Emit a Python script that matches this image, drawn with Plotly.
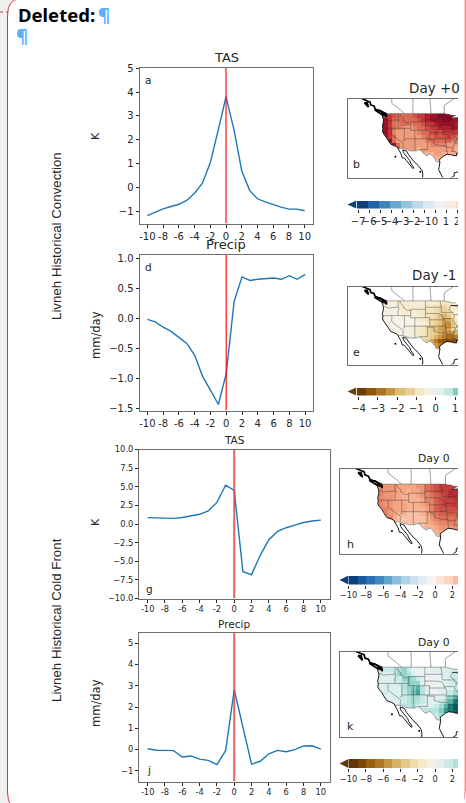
import plotly.graph_objects as go

W, H = 466, 803
days = list(range(-10, 11))
day_ticks = list(range(-10, 11, 2))
day_labels = [str(d) for d in day_ticks]

tas_conv = [-1.15, -1.0, -0.87, -0.77, -0.68, -0.52, -0.22, 0.2, 1.05, 2.4, 3.8, 2.45, 0.72, -0.1, -0.45, -0.58, -0.7, -0.8, -0.88, -0.88, -0.95]
pr_conv = [-0.02, -0.06, -0.15, -0.22, -0.32, -0.42, -0.62, -0.97, -1.2, -1.44, -0.92, 0.28, 0.69, 0.63, 0.65, 0.665, 0.67, 0.65, 0.71, 0.65, 0.73]
tas_front = [0.85, 0.85, 0.78, 0.75, 0.88, 1.1, 1.3, 1.75, 2.9, 5.2, 4.5, -6.4, -6.8, -4.2, -2.1, -1.0, -0.5, -0.15, 0.2, 0.4, 0.52]
pr_front = [0.04, -0.03, -0.04, -0.05, -0.35, -0.3, -0.45, -0.51, -0.71, -0.05, 2.8, 1.0, -0.68, -0.55, -0.2, -0.04, -0.1, 0.0, 0.17, 0.18, 0.02]

grid_lon = list(range(-125, -88, 2))
grid_lat = list(range(48, 25, -2))

map_b = [
 [5,5,5,4.5,4,4,4,4,4.5,5,5,5.5,6,6,6.5,6.5,6.5,6,6],
 [5,6,5,4,4,4,4,4,4,4.5,5,5.5,6,6,6,6.5,6.5,6,6],
 [5,6,5,4,3.5,4,4,3.5,4,4,4.5,5,5,5.5,6,6,6,6,5.5],
 [5,6,5,4,3.5,3.5,3,3,3.5,4,4,4.5,5,5,5.5,5.5,5.5,6,5.5],
 [5,6,5,3.5,3,3,3,3,3,3.5,4,4,4.5,5,4.5,5,5,5,5],
 [5,6,5,4,3,3,3,3,3,3,3.5,4,4,4.5,4.5,4.5,5,4.5,4],
 [5,5,6,4,3,3,3,3,3,3,3,3.5,4,4,4,4,4,3.5,3.5],
 [5,5,5,6,4,3,3,3,3,3,3,3,3.5,3.5,3.5,3.5,3,3,3],
 [5,5,5,5,5,3,3,3,3,2.5,3,3,3,3,3,3,3,3,2.5],
 [3,3,3,3,3,3,3,3,3,2.5,2.5,2.5,2.5,3,3,2.5,2.5,2.5,2],
 [2,2,2,2,2,2,2,2,2,2,2,2,2.5,2.5,2.5,2.5,2,2,2],
 [2,2,2,2,2,2,2,2,2,2,2,2,2,2,2,2,2,2,2],
]
map_e = [
 [-.5,-.5,-.4,-.6,-.7,-.7,-.7,-.6,-.6,-.5,-.5,-.6,-.7,-.8,-.9,-1,-1,-1,-.8],
 [-.5,-.4,-.4,-.3,-.4,-.7,-.8,-.7,-.7,-.7,-.8,-.9,-.9,-1,-1.2,-1.3,-1,-.7,-.3],
 [-.3,-.3,-.3,-.3,-.3,-.5,-.7,-.8,-.6,-.8,-.9,-1,-1,-1.2,-1.4,-1.4,-1.2,-.6,-.3],
 [-.3,-.2,-.2,-.2,-.2,-.3,-.5,-.5,-.5,-.7,-.8,-1,-1,-1.3,-1.8,-2,-1.6,-1,-.5],
 [-.2,-.2,-.2,-.2,-.2,-.2,-.2,-.3,-.4,-.6,-.7,-1,-1.2,-1.4,-1.8,-2.2,-2.2,-1.4,-.8],
 [-.2,-.2,-.2,-.2,-.2,-.2,-.2,-.2,-.3,-.4,-.5,-.9,-1.2,-1.5,-1.8,-2.4,-2.6,-1.8,-1],
 [-.2,-.2,-.2,-.2,-.2,-.2,-.3,-.4,-.5,-.7,-1,-1.2,-1.6,-1.8,-2.2,-2.4,-2.2,-1.4,-1],
 [-.2,-.2,-.2,-.2,-.2,-.3,-.4,-.4,-.6,-.7,-.8,-1.2,-1.4,-1.6,-2,-2.4,-2.6,-2.4,-2],
 [-.2,-.2,-.2,-.2,-.3,-.4,-.4,-.6,-.7,-.8,-1,-1.2,-1.6,-2,-2.4,-2.8,-3,-3,-2.8],
 [-.3,-.3,-.3,-.3,-.4,-.5,-.6,-.7,-.8,-1,-1.2,-1.6,-2.2,-2.8,-3.4,-3.6,-3.6,-3.6,-3.4],
 [-.8,-.8,-.8,-.8,-.8,-.8,-.8,-.8,-.8,-1,-1.2,-1.4,-1.8,-2.4,-2.8,-3,-3,-3,-3],
 [-.8,-.8,-.8,-.8,-.8,-.8,-.8,-.8,-.8,-1,-1,-1.2,-1.4,-1.6,-1.6,-1.6,-1.6,-1.6,-1.6],
]
map_h = [
 [4,4.5,4.5,4.5,4.5,4,4,4,4,4.5,4.5,5.5,6,6.5,7,7,7,7.5,7],
 [4.5,5,4.5,4.5,4.5,4,4,3.5,4,4,4.5,5.5,6,6.5,7,7,7.5,7.5,7],
 [4.5,5,4.5,4.5,4,4,3.5,3.5,3.5,4,4.5,5,5.5,6,6.5,7,7.5,7.5,7],
 [4.5,5,4.5,4.5,4,4,3.5,3.5,3.5,3.5,4,5,5,6,6.5,7,7,7,7],
 [4.5,5,4.5,4.5,4,4,4,3.5,3.5,3.5,4,4.5,5,6,6.5,7,7,7,7],
 [4.5,5,5,4.5,4,4,4,3.5,3.5,3.5,3.5,4,5,6,6.5,6.5,6.5,6.5,6.5],
 [4,4.5,5,4.5,4,3.5,3.5,3,3,3,3.5,4,5,5.5,6,6,6,6,6],
 [4,4,4,5,3.5,3,3,3,3,3,3,3.5,4.5,5,5.5,5.5,5.5,5.5,5.5],
 [4,4,4,4,4,3,3,3,3,3,3,3.5,4,4.5,5,5,5,5,5],
 [4,4,4,4,4,3,3,3,3,3,3,3.5,3.5,4,4.5,4.5,4.5,4.5,4.5],
 [4,4,4,4,4,3,3,3,3,3,3,3,3.5,3.5,4,4,4,4,4],
 [4,4,4,4,4,3,3,3,3,3,3,3,3,3,3.5,3.5,3.5,3.5,3.5],
]
map_k = [
 [1,1.5,2,2,2,3,3.5,2,.5,.5,.5,.5,1,1,1,1,1.5,1.5,2],
 [1,1.5,1,1,2,3.5,3.5,2.5,1,.5,.5,.5,.5,.5,1,1,1.5,2,3],
 [1,1,1,1,2,2,3.5,4,3,2,1,.5,.5,.5,.5,1,1.5,2,3],
 [1,1,1,1,1,2,2.5,4,3.5,3.5,1,.5,.5,.5,.5,1,1.5,2,4],
 [1,1,1.5,1,1,1,2.5,3.5,4,5,2.5,1,.5,.5,.5,1,1,2,4],
 [1,1,1.5,1,1,1,2,3.5,4.5,5.5,2.5,1,.5,.5,1,1,2,3,5],
 [1,1,1,1,1,1,2,2.5,3,3,2,1,1,1,1,2,3.5,5,7],
 [1,1,1,1,1,1,2,2.5,3,2.5,2,1,1,1,2,3,5,7,8],
 [1,1,1,1,1,2,2.5,2.5,2.5,2,1,1,1,2,3,5,7,8,8],
 [1,1,1,1,1,2,2,1,1,1,2,2.5,2.5,2.5,4,6,7,8,8],
 [1,1,1,1,1,2,2,2,2,2,2,2,2,2,3,4,6,7,7],
 [1,1,1,1,1,2,2,2,2,2,2,2,2,2,2,3,4,5,5],
]

us_lon = [-124.7,-123.2,-122.8,-95.2,-95.15,-94.6,-93,-91.5,-89.6,-92.1,-90.5,-88,-86,-86,-88,-89.5,-89.2,-90.5,-91.8,-93.8,-94.8,-96,-97.2,-97.4,-97.2,-99.1,-99.5,-100.7,-101.5,-102.7,-103.2,-104.5,-106.5,-108.2,-108.2,-111.07,-114.8,-117.1,-117.3,-118.4,-120.5,-121.9,-122.5,-123.8,-124.4,-124.2,-124.5,-124,-124,-124.7]
us_lat = [48.4,48.2,49,49,49.4,48.7,48.6,48.1,48,46.75,46.6,46.9,46.6,30.3,30.3,30.2,29.1,29.1,29.5,29.7,29.3,28.5,27.6,26.8,25.96,26.4,27.5,29.1,29.8,29.7,29,29.6,31.75,31.75,31.33,31.33,32.5,32.53,33.1,33.75,34.5,36.6,37.8,39.3,40.4,42,43,44.8,46.3,48.4]

state_lines = [
 [(-123.2,48.2),(-122.8,49),(-95.2,49),(-95.15,49.4),(-94.6,48.7),(-93,48.6),(-91.5,48.1),(-89.6,48)],
 [(-124,46.25),(-123,46.2),(-122,45.6),(-119,45.9),(-116.9,46)],
 [(-117.03,49),(-117.03,46.4),(-116.9,46),(-116.5,45.5),(-117,44.2),(-117.03,42)],
 [(-124.2,42),(-111.05,42)],
 [(-120,42),(-120,39),(-114.6,35),(-114.7,32.7)],
 [(-114.05,42),(-114.05,36.2),(-114.7,36.1)],
 [(-114.05,37),(-94.6,37)],
 [(-116.05,49),(-116.05,48),(-114.5,46.6),(-114.5,45.6),(-113.5,45.1),(-113,44.5),(-111.05,44.5)],
 [(-111.05,45),(-104.05,45)],
 [(-111.05,45),(-111.05,41)],
 [(-111.05,41),(-102.05,41)],
 [(-109.05,41),(-109.05,31.33)],
 [(-102.05,41),(-102.05,37)],
 [(-104.05,49),(-104.05,41)],
 [(-104.05,45.94),(-96.56,45.94)],
 [(-104.05,43),(-98.5,43),(-96.5,42.5)],
 [(-102.05,40),(-95.3,40)],
 [(-94.6,39.1),(-94.6,36.5)],
 [(-103,37),(-103,32),(-106.6,32),(-106.5,31.75)],
 [(-103,36.5),(-100,36.5),(-100,34.6),(-97,33.8),(-94.5,33.6),(-94.05,33.55)],
 [(-94.45,36.5),(-94.45,33.6)],
 [(-94.05,33.55),(-94.05,31),(-93.6,31),(-93.8,29.7)],
 [(-94.05,33),(-91.2,33)],
 [(-94.6,36.5),(-90.2,36.5),(-90.3,36)],
 [(-91.2,43.5),(-91,42.5),(-90.2,41.8),(-91,40.6),(-91.4,40),(-90.2,38.7),(-89.2,37),(-89.6,36.5),(-90.1,35),(-91.1,33),(-91.6,31),(-89.7,31),(-89.6,30.2)],
 [(-96.5,43.5),(-91.2,43.5)],
 [(-95.77,40.58),(-91.7,40.6)],
 [(-97.2,49),(-96.56,46),(-96.5,43.5)],
 [(-96.5,42.5),(-95.9,41),(-95.3,40),(-94.6,39.1)],
 [(-92,46.7),(-92.8,45.5),(-92.8,44.7),(-91.2,43.5)],
 [(-90.6,42.5),(-87.8,42.5)],
 [(-90.4,46.5),(-88,45.8)],
 [(-88.4,35),(-88.1,30.3)],
 [(-90.1,35),(-88,35)],
 [(-89.5,36.5),(-88,36.5)],
 [(-89.2,37),(-88,37.8)],
]
border_lines = [
 [(-120,57),(-120,53.8),(-116,50.7),(-114.06,49)],
 [(-110,57),(-110,49)],
 [(-102,57),(-101.4,49)],
 [(-95.15,49.4),(-95.15,52.8),(-89,57)],
 [(-97.2,25.96),(-99.1,26.4),(-99.5,27.5),(-100.7,29.1),(-101.5,29.8),(-102.7,29.7),(-103.2,29),(-104.5,29.6),(-106.5,31.75),(-108.2,31.75),(-108.2,31.33),(-111.07,31.33),(-114.8,32.5),(-117.1,32.53)],
]
coast_lines = [
 [(-124.7,48.4),(-124,46.3),(-124,44.8),(-124.5,43),(-124.2,42),(-124.4,40.4),(-123.8,39.3),(-122.5,37.8),(-121.9,36.6),(-120.5,34.5),(-118.4,33.75),(-117.3,33.1),(-117.1,32.53),(-116.5,31.5),(-115.8,30.3),(-115,28),(-114.1,28),(-113,26.7),(-112.1,25.5),(-111.5,24.5),(-110,23),(-109.5,23.3),(-110.3,24.3),(-111,25.5),(-111.5,26.8),(-112.8,28.5),(-114.5,30.5),(-114.8,31.8),(-113,31.2),(-112,29.5),(-110.5,27.6),(-109.2,26),(-107.5,24.5),(-105.6,22),(-105.3,20.5),(-105.5,18)],
 [(-86,30.3),(-88,30.3),(-89.5,30.2),(-89.2,29.1),(-90.5,29.1),(-91.8,29.5),(-93.8,29.7),(-94.8,29.3),(-96,28.5),(-97.2,27.6),(-97.4,26.8),(-97.2,25.96),(-97.8,22.5),(-96.5,19.5),(-95.5,18)],
 [(-92,18.6),(-90.5,19.5),(-90.4,21),(-88,21.6)],
 [(-92.1,46.75),(-90.5,46.7),(-88,46.9)],
]
bc_lines = [
 [(-134.5,57),(-133.5,55.8),(-132,55),(-131,54.5),(-130.3,54.3),(-130,53),(-128.5,52.5),(-127.8,51),(-126,50.5),(-125,50),(-124,49.5),(-123,49.1),(-122.8,48.9),(-122.5,48),(-122.5,47.3),(-123,48.1),(-124.7,48.4)],
 [(-128.2,50.7),(-125.5,50.3),(-123.5,48.6),(-124.8,48.6),(-128.2,50.7)],
 [(-133,54),(-131.7,54),(-131,52),(-133,54)],
 [(-135,57.5),(-133.5,56.5),(-132.5,55.5),(-133.8,55.8),(-135,57.5)],
]
island_lon = [-118.3, -106.5]
island_lat = [28.6, 21.5]

rdbu_scale = [[0,'#053061'],[.1,'#2166ac'],[.2,'#4393c3'],[.3,'#92c5de'],[.4,'#d1e5f0'],[.5,'#f7f7f7'],[.6,'#fddbc7'],[.7,'#f4a582'],[.8,'#d6604d'],[.9,'#b2182b'],[1,'#67001f']]
brbg_scale = [[0,'#543005'],[.1,'#8c510a'],[.2,'#bf812d'],[.3,'#dfc27d'],[.4,'#f6e8c3'],[.5,'#f5f5f5'],[.6,'#c7eae5'],[.7,'#80cdc1'],[.8,'#35978f'],[.9,'#01665e'],[1,'#003c30']]

cb_b_colors = ['#0f3f78','#1f63a8','#3a85bc','#66a8cf','#94c5df','#bcd9ea','#dce9f2','#eef1f4','#fae9e0','#fdd7c2','#fbc3a6']
cb_e_colors = ['#6b3d0a','#8f560e','#aa7322','#c2953f','#dcbc72','#e6cf94','#f4e6c0','#f4f0e2','#e3f0ed','#c4e8e2','#80cdc1']
cb_h_colors = ['#0f3f78','#1b5a9c','#2b70b1','#3f8ac0','#62a5cd','#89bdda','#aed2e5','#cde2ee','#e1ecf3','#f6f2f0','#fbe5d8','#fdd5bf','#f9bd9f']
cb_k_colors = ['#5f3608','#7b4509','#96600f','#ad7723','#c3953f','#d6b265','#e3c98a','#f0deaa','#f5ebcb','#f4f1e4','#e5f0ed','#cdebe6','#b0e0d8']

FONT = 'DejaVu Sans'
TXT = '#262626'
LINE = '#6e6e6e'
X = lambda px: px / W
Y = lambda py: 1 - py / H

fig = go.Figure()
layout = {}
anns = []
shapes = []
count = [0]


def new_axes(box, xr, yr, xopts=None, yopts=None):
    count[0] += 1
    n = count[0]
    s = '' if n == 1 else str(n)
    l, r, t, b = box
    xa = dict(domain=[X(l), X(r)], range=xr, anchor='y' + s, showgrid=False, zeroline=False,
              showline=True, linecolor=LINE, linewidth=1, mirror=True, ticks='', showticklabels=False,
              fixedrange=True, layer='above traces')
    ya = dict(domain=[Y(b), Y(t)], range=yr, anchor='x' + s, showgrid=False, zeroline=False,
              showline=True, linecolor=LINE, linewidth=1, ticks='', showticklabels=False,
              fixedrange=True, layer='above traces')
    xa.update(xopts or {})
    ya.update(yopts or {})
    layout['xaxis' + s] = xa
    layout['yaxis' + s] = ya
    return 'x' + s, 'y' + s


def text(s, px, py, size, rot=0, color=TXT, family=FONT, weight='normal', xanchor='center'):
    anns.append(dict(text=s, x=X(px), y=Y(py), xref='paper', yref='paper', showarrow=False,
                     font=dict(size=size, color=color, family=family, weight=weight), borderpad=0,
                     textangle=rot, xanchor=xanchor, yanchor='middle'))


def chart(box, xr, yr, ytick, ylab, values, tick_size, red_w, red_col):
    tick = dict(ticks='outside', ticklen=3, tickwidth=1, tickcolor=TXT, showticklabels=True, tickangle=0,
                tickfont=dict(size=tick_size, color=TXT, family=FONT))
    xa, ya = new_axes(box, xr, yr,
                      dict(tickvals=day_ticks, ticktext=day_labels, **tick),
                      dict(tickvals=ytick, ticktext=ylab, mirror=True, **tick))
    fig.add_trace(go.Scatter(x=days, y=values, mode='lines', line=dict(color='#1f77b4', width=1.4),
                             xaxis=xa, yaxis=ya, hoverinfo='skip', showlegend=False))
    fig.add_trace(go.Scatter(x=[0, 0], y=yr, mode='lines', line=dict(color=red_col, width=red_w),
                             xaxis=xa, yaxis=ya, hoverinfo='skip', showlegend=False))


def seg_xy(lines):
    xs, ys = [], []
    for ln in lines:
        xs += [p[0] for p in ln] + [None]
        ys += [p[1] for p in ln] + [None]
    return xs, ys


def usa_map(box, grid, scale, zlim, px_per_deg):
    l, r, t, b = box
    lon0 = -141
    lon1 = lon0 + (r - l) / px_per_deg
    xa, ya = new_axes(box, [lon0, lon1], [18.8, 55.8], None, None)
    fig.add_trace(go.Heatmap(x=grid_lon, y=grid_lat, z=grid, colorscale=scale, zmin=zlim[0], zmax=zlim[1],
                             showscale=False, xaxis=xa, yaxis=ya, hoverinfo='skip'))
    mask_x = [-150, -150, -80, -80, -150, None] + us_lon[::-1]
    mask_y = [10, 60, 60, 10, 10, None] + us_lat[::-1]
    fig.add_trace(go.Scatter(x=mask_x, y=mask_y, mode='none', fill='toself', fillcolor='white',
                             xaxis=xa, yaxis=ya, hoverinfo='skip', showlegend=False))
    bx, by = seg_xy(border_lines)
    fig.add_trace(go.Scatter(x=bx, y=by, mode='lines', line=dict(color='#a0a0a0', width=1),
                             xaxis=xa, yaxis=ya, hoverinfo='skip', showlegend=False))
    sx, sy = seg_xy(state_lines)
    fig.add_trace(go.Scatter(x=sx, y=sy, mode='lines', line=dict(color='rgba(50,50,50,0.5)', width=0.8),
                             xaxis=xa, yaxis=ya, hoverinfo='skip', showlegend=False))
    cx, cy = seg_xy(coast_lines)
    fig.add_trace(go.Scatter(x=cx, y=cy, mode='lines', line=dict(color='black', width=0.9),
                             xaxis=xa, yaxis=ya, hoverinfo='skip', showlegend=False))
    ex, ey = seg_xy(bc_lines)
    fig.add_trace(go.Scatter(x=ex, y=ey, mode='lines', line=dict(color='black', width=1.7),
                             xaxis=xa, yaxis=ya, hoverinfo='skip', showlegend=False))
    fig.add_trace(go.Scatter(x=island_lon, y=island_lat, mode='markers', marker=dict(color='black', size=2),
                             xaxis=xa, yaxis=ya, hoverinfo='skip', showlegend=False))


def colorbar(box, xr, first_edge, step, colors, ticks, labels, size, standoff=3):
    xa, ya = new_axes(box, xr, [0, 1],
                      dict(tickvals=ticks, ticktext=labels, ticks='outside', ticklen=standoff, tickwidth=1, tickangle=0,
                           tickcolor=TXT, showticklabels=True, showline=False,
                           tickfont=dict(size=size, color=TXT, family=FONT)),
                      dict(showline=False))
    centers = [first_edge + step * (i + .5) for i in range(len(colors))]
    fig.add_trace(go.Bar(x=centers, y=[1] * len(colors), width=[step] * len(colors), marker=dict(color=colors, line=dict(width=0)),
                         xaxis=xa, yaxis=ya, hoverinfo='skip', showlegend=False))
    fig.add_trace(go.Scatter(x=[first_edge, xr[0], first_edge, first_edge], y=[0, .5, 1, 0], mode='none', fill='toself',
                             fillcolor=colors[0], xaxis=xa, yaxis=ya, hoverinfo='skip', showlegend=False))


# page furniture
shapes.append(dict(type='path', xref='paper', yref='paper', layer='below',
                   path=f'M {X(7.5)} {Y(16)} Q {X(7.5)} {Y(-1)} {X(20)} {Y(-1)} L {X(465)} {Y(-1)} L {X(465)} {Y(790)} Q {X(465)} {Y(810)} {X(450)} {Y(810)} L {X(22)} {Y(810)} Q {X(7.5)} {Y(810)} {X(7.5)} {Y(792)} Z',
                   fillcolor='white', line=dict(color='#d9343f', width=1)))
shapes.append(dict(type='line', xref='paper', yref='paper', x0=0, x1=X(8), y0=Y(12), y1=Y(12), layer='below',
                   line=dict(color='#d9343f', width=1, dash='dot')))

# time series
chart((139.5, 312.5, 68, 223.5), [-11, 11], [-1.48, 5], [-1, 0, 1, 2, 3, 4, 5], ['−1', '0', '1', '2', '3', '4', '5'], tas_conv, 10, 1.4, 'rgba(255,0,0,0.8)')
chart((139.5, 313, 255, 410.5), [-11, 11], [-1.54, 1.055], [-1.5, -1, -.5, 0, .5, 1], ['−1.5', '−1.0', '−0.5', '0.0', '0.5', '1.0'], pr_conv, 10, 1.4, 'rgba(255,0,0,0.8)')
chart((139, 329.5, 449.5, 598.5), [-11, 11], [-10, 10], [-10, -7.5, -5, -2.5, 0, 2.5, 5, 7.5, 10], ['−10.0', '−7.5', '−5.0', '−2.5', '0.0', '2.5', '5.0', '7.5', '10.0'], tas_front, 8.3, 2, 'rgba(220,70,70,0.85)')
chart((139, 329.5, 632.5, 781.5), [-11, 11], [-1.5, 5.5], [-1, 0, 1, 2, 3, 4, 5], ['−1', '0', '1', '2', '3', '4', '5'], pr_front, 8.3, 2, 'rgba(220,70,70,0.85)')

# maps
usa_map((347.5, 458, 99, 177.5), map_b, rdbu_scale, (-7, 7), 2.11)
usa_map((347.5, 458, 286.5, 364.5), map_e, brbg_scale, (-4.5, 4.5), 2.11)
usa_map((339.5, 458, 468.5, 553.5), map_h, rdbu_scale, (-10, 10), 2.31)
usa_map((339.5, 458, 651.5, 737), map_k, brbg_scale, (-10, 10), 2.31)

# colour bars
colorbar((347.5, 458, 200.5, 208.5), [-7.97, 2.09], -7.18, 1, cb_b_colors, [-7, -6, -5, -4, -3, -2, -1, 0, 1, 2], ['−7', '−6', '−5', '−4', '−3', '−2', '−1', '0', '1', '2'], 10)
colorbar((347.5, 458, 387.5, 395.5), [-4.57, 1.15], -4.12, .5, cb_e_colors, [-4, -3, -2, -1, 0, 1], ['−4', '−3', '−2', '−1', '0', '1'], 10)
colorbar((339.5, 458, 575.5, 584.5), [-11.04, 2.65], -10, 1, cb_h_colors, [-10, -8, -6, -4, -2, 0, 2], ['−10', '−8', '−6', '−4', '−2', '0', '2'], 8.3)
colorbar((339.5, 458, 759, 768), [-11.04, 2.65], -10, 1, cb_k_colors, [-10, -8, -6, -4, -2, 0, 2], ['−10', '−8', '−6', '−4', '−2', '0', '2'], 8.3)

# hide what is cut off at the right edge of the page image
shapes.append(dict(type='rect', xref='paper', yref='paper', x0=X(458), x1=X(464.5), y0=0, y1=1, layer='above',
                   fillcolor='white', line=dict(width=0)))

# texts
text('Deleted:', 17, 15, 18.5, family='Noto Sans', weight='bold', color='black', xanchor='left')
text('¶', 97, 15, 18.5, family='Noto Sans', weight='bold', color='#5aaefc', xanchor='left')
text('¶', 15, 36, 18.5, family='Noto Sans', weight='bold', color='#5aaefc', xanchor='left')
text('Livneh Historical Convection', 56, 236, 13.3, rot=-90, family='Liberation Sans')
text('Livneh Historical Cold Front', 56, 620, 13.3, rot=-90, family='Liberation Sans')
text('K', 95, 136, 11, rot=-90)
text('mm/day', 96, 335, 11.5, rot=-90)
text('K', 95, 522, 11, rot=-90)
text('mm/day', 96, 703, 11.5, rot=-90)
text('TAS', 226, 57, 13)
text('Precip', 226, 244, 13)
text('TAS', 234, 440, 10.5)
text('Precip', 234, 624, 10.5)
text('Day +0', 434, 88, 13.5)
text('Day -1', 434, 275, 13.5)
text('Day 0', 434, 459, 10.8)
text('Day 0', 434, 642, 10.8)
for s, px, py in [('a', 148, 80), ('d', 148, 267), ('g', 149, 589), ('j', 149, 770)]:
    text(s, px, py, 10.5)
for s, px, py in [('b', 356.7, 165), ('e', 356.7, 352), ('h', 350, 544), ('k', 350, 726)]:
    text(s, px, py, 11)

layout.update(width=W, height=H, margin=dict(l=0, r=0, t=0, b=0, pad=0, autoexpand=False), autosize=False,
              paper_bgcolor='#efefef', plot_bgcolor='white', showlegend=False, barmode='overlay',
              bargap=0, annotations=anns, shapes=shapes, font=dict(family=FONT))
fig.update_layout(**layout)
fig.write_html('out.html', config=dict(displayModeBar=False),
               post_script="document.body.style.margin='0';document.body.style.overflow='hidden';document.documentElement.style.overflow='hidden';")
